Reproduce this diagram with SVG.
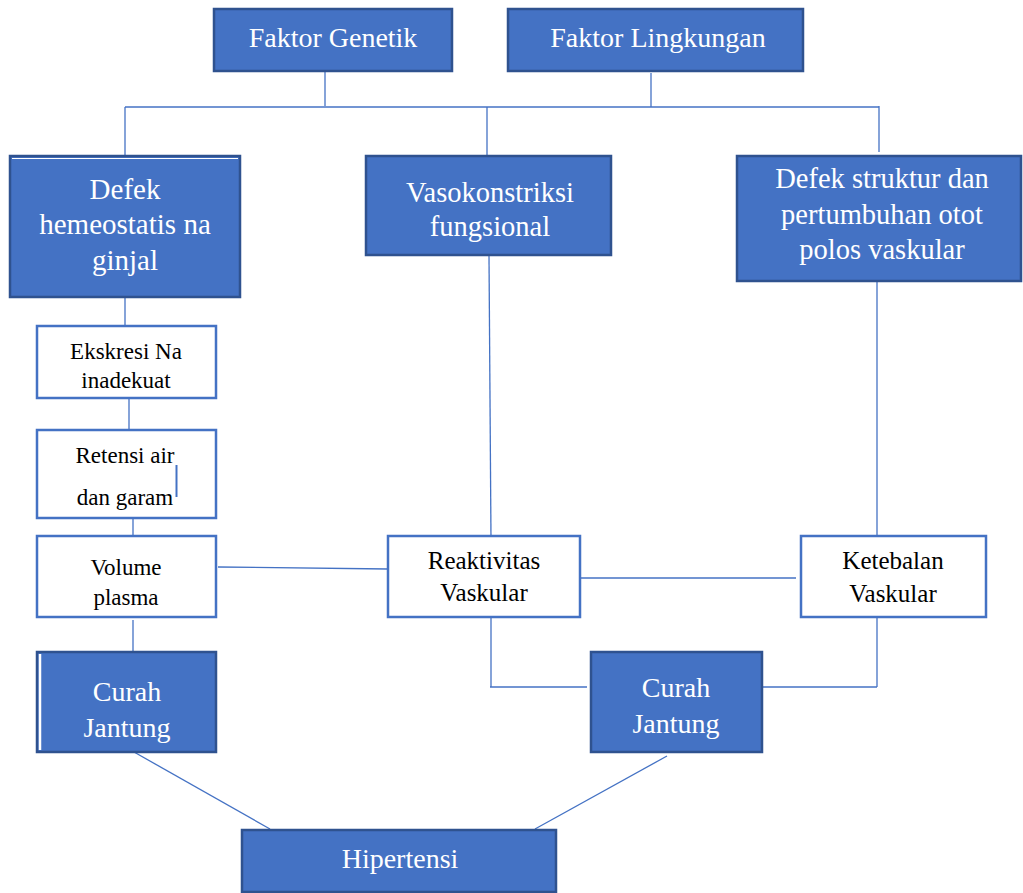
<svg xmlns="http://www.w3.org/2000/svg" width="1023" height="893" viewBox="0 0 1023 893">
<style>
.blue{fill:#4472C4;stroke:#2F528F;stroke-width:2.5}
.white{fill:#FFFFFF;stroke:#4472C4;stroke-width:2.5}
.tw{font-family:'Liberation Serif','Tinos','DejaVu Serif',serif;fill:#FFFFFF;text-anchor:middle;font-size:28px}
.tb{font-family:'Liberation Serif','Tinos','DejaVu Serif',serif;fill:#000000;text-anchor:middle;font-size:23px}
.c{stroke:#4472C4;stroke-width:1.3;fill:none}
</style>
<rect width="1023" height="893" fill="#FFFFFF"/>
<g id="connectors">
<line class="c" x1="325" y1="72" x2="325" y2="106"/>
<line class="c" x1="651" y1="73" x2="651" y2="107"/>
<line class="c" x1="125" y1="107" x2="879" y2="107"/>
<line class="c" x1="125" y1="107" x2="125" y2="157"/>
<line class="c" x1="487" y1="107" x2="487" y2="156"/>
<line class="c" x1="879" y1="106" x2="879" y2="152"/>
<line class="c" x1="125" y1="297" x2="125" y2="326"/>
<line class="c" x1="129" y1="398" x2="129" y2="430"/>
<line class="c" x1="133" y1="512" x2="133" y2="542"/>
<line class="c" x1="133" y1="620" x2="133" y2="652"/>
<line class="c" x1="218" y1="567" x2="388" y2="569"/>
<line class="c" x1="489" y1="256" x2="491" y2="540"/>
<line class="c" x1="877" y1="282" x2="877" y2="540"/>
<line class="c" x1="580" y1="578" x2="796" y2="578"/>
<line class="c" x1="491" y1="617" x2="491" y2="687"/>
<line class="c" x1="490" y1="687" x2="587" y2="687"/>
<line class="c" x1="877" y1="617" x2="877" y2="687"/>
<line class="c" x1="762" y1="687" x2="877" y2="687"/>
<line class="c" x1="134" y1="752" x2="270" y2="829"/>
<line class="c" x1="667" y1="756" x2="535" y2="829"/>
</g>
<g id="faktor-genetik">
<rect class="blue" x="214" y="9" width="238" height="62"/>
<text class="tw" x="333" y="47">Faktor Genetik</text>
</g>
<g id="faktor-lingkungan">
<rect class="blue" x="508" y="9" width="295" height="62"/>
<text class="tw" x="658" y="47">Faktor Lingkungan</text>
</g>
<g id="defek-hemeostatis">
<rect class="blue" x="10" y="156" width="230" height="141"/>
<line x1="12" y1="158.5" x2="238" y2="158.5" stroke="#FFFFFF" stroke-width="1"/>
<text class="tw" x="125" y="199" style="font-size:29px">Defek</text>
<text class="tw" x="125" y="234" style="font-size:29px">hemeostatis na</text>
<text class="tw" x="125" y="270" style="font-size:29px">ginjal</text>
</g>
<g id="vasokonstriksi">
<rect class="blue" x="366" y="156" width="245" height="99"/>
<text class="tw" x="490" y="202" style="font-size:28.5px">Vasokonstriksi</text>
<text class="tw" x="490" y="236" style="font-size:28.5px">fungsional</text>
</g>
<g id="defek-struktur">
<rect class="blue" x="737" y="156" width="284" height="125"/>
<text class="tw" x="882" y="188" style="font-size:28.5px">Defek struktur dan</text>
<text class="tw" x="882" y="224" style="font-size:28.5px">pertumbuhan otot</text>
<text class="tw" x="882" y="259" style="font-size:28.5px">polos vaskular</text>
</g>
<g id="ekskresi">
<rect class="white" x="37" y="326" width="179" height="72"/>
<text class="tb" x="126" y="359">Ekskresi Na</text>
<text class="tb" x="126" y="388">inadekuat</text>
</g>
<g id="retensi">
<rect class="white" x="37" y="430" width="179" height="88"/>
<text class="tb" x="125" y="463">Retensi air</text>
<text class="tb" x="125" y="505">dan garam</text>
<line x1="176.5" y1="465" x2="176.5" y2="497" stroke="#4472C4" stroke-width="2"/>
</g>
<g id="volume-plasma">
<rect class="white" x="37" y="536" width="179" height="81"/>
<text class="tb" x="126" y="575">Volume</text>
<text class="tb" x="126" y="605">plasma</text>
</g>
<g id="reaktivitas">
<rect class="white" x="388" y="536" width="192" height="81"/>
<text class="tb" x="484" y="569" style="font-size:25px">Reaktivitas</text>
<text class="tb" x="484" y="601" style="font-size:25px">Vaskular</text>
</g>
<g id="ketebalan">
<rect class="white" x="801" y="536" width="185" height="81"/>
<text class="tb" x="893" y="569" style="font-size:25px">Ketebalan</text>
<text class="tb" x="893" y="602" style="font-size:25px">Vaskular</text>
</g>
<g id="curah-jantung-kiri">
<rect class="blue" x="37" y="652" width="179" height="100"/>
<line x1="40" y1="654" x2="40" y2="750" stroke="#FFFFFF" stroke-width="2.5"/>
<text class="tw" x="127" y="701">Curah</text>
<text class="tw" x="127" y="737">Jantung</text>
</g>
<g id="curah-jantung-kanan">
<rect class="blue" x="591" y="652" width="171" height="100"/>
<text class="tw" x="676" y="697">Curah</text>
<text class="tw" x="676" y="733">Jantung</text>
</g>
<g id="hipertensi">
<rect class="blue" x="242" y="830" width="314" height="62"/>
<text class="tw" x="400" y="868">Hipertensi</text>
</g>
</svg>
